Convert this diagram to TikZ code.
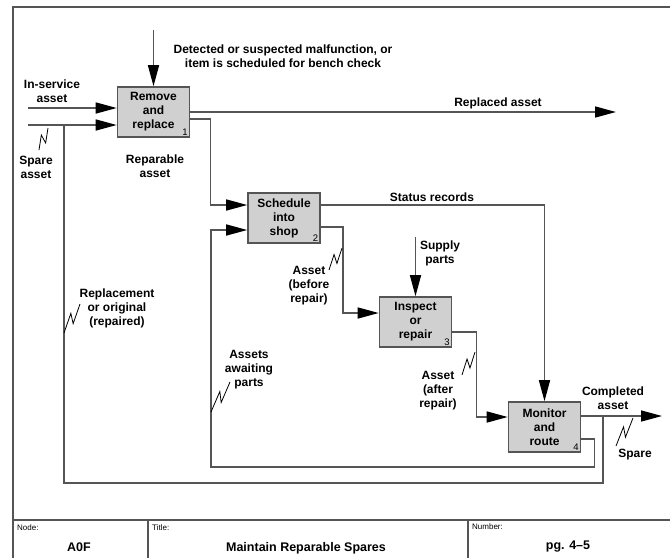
\documentclass[tikz,border=0pt]{standalone}
\usepackage{fontspec}
\setmainfont{Liberation Sans}
\usepackage{tikz}
\usetikzlibrary{arrows.meta,positioning,calc}
\definecolor{lngray}{RGB}{85,85,85}
\definecolor{boxgray}{RGB}{208,208,208}
\newcommand{\lblfont}{\fontsize{12}{14}\selectfont\bfseries}
\newcommand{\sqg}[2]{\draw[sq] (#1) -- ($(#1)!.62!(#2)!3.5pt!90:(#2)$)
  -- ($(#1)!.38!(#2)!3.5pt!-90:(#2)$) -- (#2);}

\begin{document}
\begin{tikzpicture}[x=1pt,y=-1pt,
  line/.style={draw=lngray,line width=1.5pt},
  arr/.style={line,-{Triangle[length=21pt,width=11pt,color=black]}},
  frame/.style={draw=lngray,line width=1.4pt},
  sq/.style={draw=black,line width=0.8pt},
  fn/.style={draw=lngray,fill=boxgray,line width=1.6pt,minimum width=72pt,
    minimum height=50pt,align=center,inner sep=0pt,font=\lblfont},
  num/.style={font=\fontsize{9.5}{10}\selectfont,inner sep=2.5pt,anchor=south east},
  txt/.style={align=center,font=\lblfont,inner sep=1pt},
  sml/.style={font=\fontsize{8}{9}\selectfont,inner sep=1pt,anchor=west},
  ftb/.style={font=\fontsize{12.5}{14}\selectfont\bfseries,inner sep=1pt}]
\useasboundingbox (0,0) rectangle (670,558);
% frame and title block
\draw[frame] (670,7) -- (13,7) -- (13,558);
\draw[frame] (13,520) -- (670,520);
\draw[frame] (148,520) -- (148,558);
\draw[frame] (468,520) -- (468,558);
%
\node[fn] (b1) at (153.5,112) {Remove\\and\\replace};
\node[fn] (b2) at (284,218)   {Schedule\\into\\shop};
\node[fn] (b3) at (415.5,322) {Inspect\\or\\repair};
\node[fn] (b4) at (544.5,427) {Monitor\\and\\route};
\node[num] (n1) at (b1.south east) {1};
\node[num] (n2) at (b2.south east) {2};
\node[num] (n3) at (b3.south east) {3};
\node[num] (n4) at (b4.south east) {4};
%
\coordinate (ctl1) at (153.5,30);
\coordinate (inA)  at (28,108);
\coordinate (inS)  at (28,125);
\coordinate (outR) at (616,112);
\coordinate (sup)  at (415.5,237);
\coordinate (outC) at (662,416);
\coordinate (jSp)  at (603,416);
\coordinate (jRe)  at (64,483);
\coordinate (jAw)  at (211,467);
%
\draw[arr] (ctl1) -- (b1.north);
\draw[arr] (inA) -- (inA -| b1.west);
\draw[arr] (inS) -- (inS -| b1.west);
\draw[arr] (b1.east) -- (outR);
\draw[arr] ([yshift=-7pt]b1.east) -- ++(20,0) |- ([yshift=13pt]b2.west);
\draw[arr] ([yshift=13pt]b2.east) -| (b4.north);
\draw[arr] ([yshift=-9pt]b2.east) -- ++(22,0) |- ([yshift=9pt]b3.west);
\draw[arr] (sup) -- (b3.north);
\draw[arr] ([yshift=-10pt]b3.east) -- ++(24,0) |- ([yshift=10pt]b4.west);
\draw[arr] ([yshift=11pt]b4.east) -- (outC);
\draw[line] (jSp) |- (jRe) -- (jRe |- inS);
\draw[arr] ([yshift=-12pt]b4.east) -- ++(13,0) |- (jAw) |- ([yshift=-12pt]b2.west);
%
\node[txt] (lDet) at (283,56)  {Detected or suspected malfunction, or\\item is scheduled for bench check};
\node[txt] (lIn)  at (52,91)   {In-service\\asset};
\node[txt] (lSp)  at (36,167)  {Spare\\asset};
\node[txt] (lRep) at (155,166) {Reparable\\asset};
\node[txt] (lRpl) at (498,103) {Replaced asset};
\node[txt] (lSt)  at (432,197) {Status records};
\node[txt] (lBef) at (309,286) {Asset\\(before\\repair)};
\node[txt] (lSup) at (440,253) {Supply\\parts};
\node[txt] (lAft) at (438,391) {Asset\\(after\\repair)};
\node[txt] (lCmp) at (613,398) {Completed\\asset};
\node[txt] (lSp2) at (635,455) {Spare};
\node[txt] (lOrg) at (117,308) {Replacement\\or original\\(repaired)};
\node[txt] (lAw)  at (249,370) {Assets\\awaiting\\parts};
%
\sqg{48,128}{39,150}
\sqg{342,248}{329,270}
\sqg{475,352}{462,375}
\sqg{633,418}{616,446}
\sqg{64,333}{80,304}
\sqg{211,412}{230,382}
%
\node[sml] (fNd) at (16,528)  {Node:};
\node[ftb] (fA0) at (79,547)  {A0F};
\node[sml] (fTt) at (151,528) {Title:};
\node[ftb] (fTl) at (306,548) {Maintain Reparable Spares};
\node[sml] (fNm) at (471,527) {Number:};
\node[ftb] (fPg) at (568,547) {pg. 4--5};
\end{tikzpicture}
\end{document}
